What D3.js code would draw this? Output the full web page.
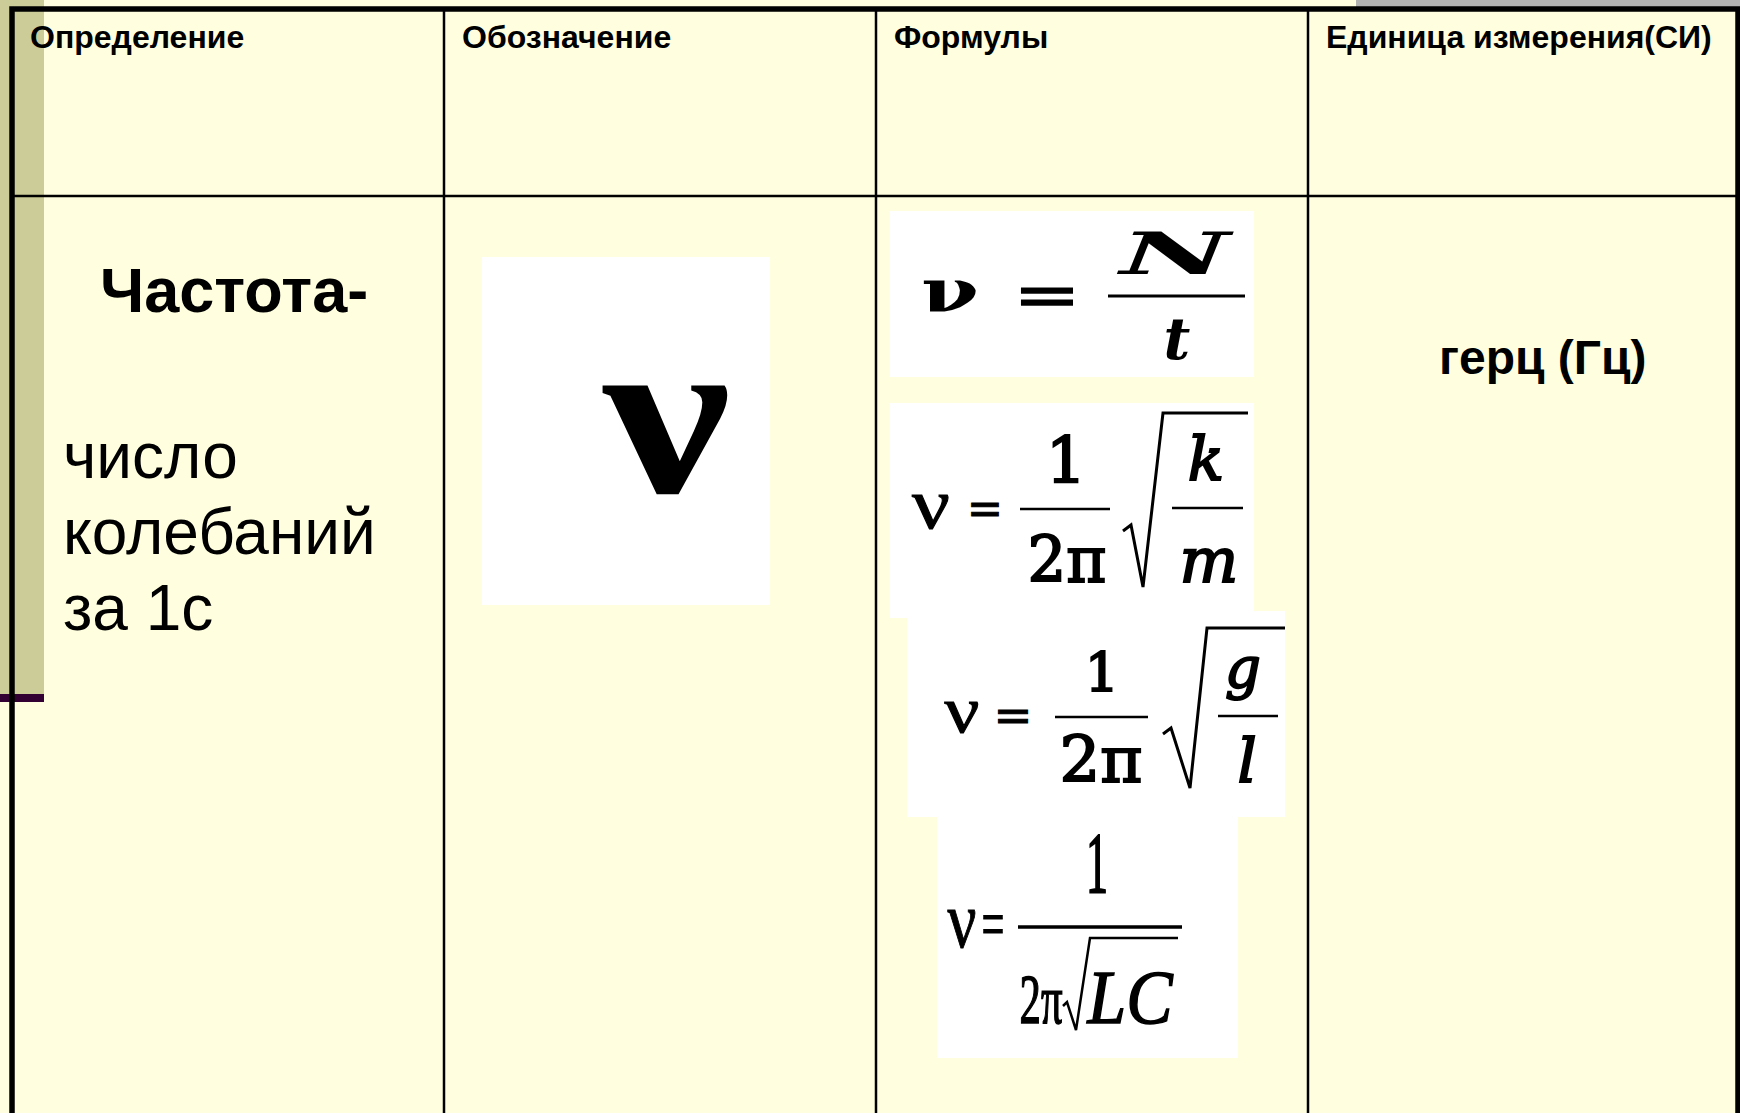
<!DOCTYPE html>
<html>
<head>
<meta charset="utf-8">
<script src="https://cdn.jsdelivr.net/npm/d3@7"></script>
<style>
  html, body { margin: 0; padding: 0; background: #FFFFE0; overflow: hidden; }
  svg { display: block; }
</style>
</head>
<body>
<div id="chart"></div>
<script>
// table content
const headers = ['Определение', 'Обозначение', 'Формулы', 'Единица измерения(СИ)'];
const definitionTitle = 'Частота-';
const definitionLines = ['число', 'колебаний', 'за 1с'];
const symbol = 'ν';
const unit = 'герц (Гц)';
// formulas: ν = numerator / denominator, optionally times sqrt(radicand)
const formulaLeft = ['ν', 'ν', 'ν', 'ν'];
const numerators = ['N', '1', '1', '1'];
const denominators = ['t', '2π', '2π', '2π'];
const radicandTop = [null, 'k', 'g', null];
const radicandBottom = [null, 'm', 'l', null];
const denominatorRoot = [null, null, null, 'LC'];

const W = 1740, H = 1113;
const svg = d3.select('#chart').append('svg').attr('width', W).attr('height', H);

const x = d3.scaleBand().domain(headers).range([12, 1740]);
const rowY = d3.scaleOrdinal().domain(['top', 'body', 'end']).range([9, 196, 1240]);

// slide decoration
svg.append('rect').attr('x', 1356).attr('y', 0).attr('width', W - 1356).attr('height', 8).attr('fill', '#B2B2B2');
svg.append('rect').attr('x', 0).attr('y', 0).attr('width', 44).attr('height', 694).attr('fill', '#CCCC99');
svg.append('rect').attr('x', 0).attr('y', 694).attr('width', 44).attr('height', 8).attr('fill', '#330033');

// grid lines
const grid = svg.append('g');
grid.selectAll('line.col')
  .data(headers.slice(1))
  .join('line')
  .attr('x1', d => x(d)).attr('x2', d => x(d))
  .attr('y1', rowY('top')).attr('y2', rowY('end'))
  .attr('stroke', '#000').attr('stroke-width', 2.5);
grid.append('line')
  .attr('x1', x.range()[0]).attr('x2', x.range()[1])
  .attr('y1', rowY('body')).attr('y2', rowY('body'))
  .attr('stroke', '#000').attr('stroke-width', 2.5);
grid.append('rect')
  .attr('x', x.range()[0]).attr('y', rowY('top'))
  .attr('width', x.range()[1] - 2 - x.range()[0]).attr('height', rowY('end') - rowY('top'))
  .attr('fill', 'none').attr('stroke', '#000').attr('stroke-width', 5.5);

const sans = '"Liberation Sans", Arial, sans-serif';
const serif = '"DejaVu Serif", serif';
const times = '"Liberation Serif", "Times New Roman", serif';

// header texts
svg.selectAll('text.head')
  .data(headers)
  .join('text')
  .attr('class', 'head')
  .attr('x', d => x(d) + 18)
  .attr('y', 48)
  .attr('font-family', sans)
  .attr('font-weight', 'bold')
  .attr('font-size', 32)
  .attr('fill', '#000')
  .text(d => d);

// definition column
const c0 = x(headers[0]);
svg.append('text').attr('x', c0 + 88).attr('y', 312)
  .attr('font-family', sans).attr('font-weight', 'bold').attr('font-size', 63)
  .text(definitionTitle);
svg.selectAll('text.defline')
  .data(definitionLines)
  .join('text')
  .attr('class', 'defline')
  .attr('x', c0 + 51)
  .attr('y', (d, i) => 478 + i * 76)
  .attr('font-family', sans).attr('font-size', 64)
  .text(d => d);

// symbol column
const c1 = x(headers[1]);
svg.append('rect').attr('x', c1 + 38).attr('y', 257).attr('width', 288).attr('height', 348).attr('fill', '#fff');
svg.append('text').attr('x', c1 + 223).attr('y', 492)
  .attr('text-anchor', 'middle')
  .attr('font-family', times).attr('font-weight', 'bold').attr('font-size', 232)
  .attr('textLength', 128).attr('lengthAdjust', 'spacingAndGlyphs')
  .text(symbol);

// unit column
const c3 = x(headers[3]);
svg.append('text').attr('x', c3 + 131).attr('y', 374)
  .attr('font-family', sans).attr('font-weight', 'bold').attr('font-size', 48)
  .text(unit);

// formulas column
const c2 = x(headers[2]);
const fg = svg.append('g').attr('transform', `translate(${c2},0)`);
const boxes = [[14, 211, 364, 166], [14, 403, 364, 215], [31, 611, 378, 206], [61, 817, 301, 241]];
fg.selectAll('rect.fbox').data(boxes).join('rect')
  .attr('x', d => d[0]).attr('y', d => d[1]).attr('width', d => d[2]).attr('height', d => d[3])
  .attr('fill', '#fff');

function t(g, s, px, py, o) {
  const e = g.append('text').attr('x', px).attr('y', py)
    .attr('text-anchor', o.anchor || 'middle')
    .attr('font-family', o.family || serif)
    .attr('font-size', o.size)
    .attr('font-weight', o.bold ? 'bold' : 'normal')
    .attr('font-style', o.italic ? 'italic' : 'normal')
    .text(s);
  if (o.len) e.attr('textLength', o.len).attr('lengthAdjust', 'spacingAndGlyphs');
  if (o.heavy) e.attr('stroke', '#000').attr('stroke-width', o.heavy);
  return e;
}
function bar(g, x1, x2, y, w) {
  g.append('line').attr('x1', x1).attr('x2', x2).attr('y1', y).attr('y2', y)
    .attr('stroke', '#000').attr('stroke-width', w);
}
function root(g, pts, w) {
  g.append('path').attr('d', d3.line()(pts)).attr('fill', 'none')
    .attr('stroke', '#000').attr('stroke-width', w).attr('stroke-linejoin', 'miter');
}

// 1: ν = N / t
t(fg, formulaLeft[0], 950 - c2, 312, { size: 60, bold: true, len: 58 });
t(fg, '=', 1047 - c2, 315, { size: 60, len: 67, heavy: 1.5 });
bar(fg, 1108 - c2, 1245 - c2, 296, 3);
t(fg, numerators[0], 1175 - c2, 274, { size: 58, bold: true, italic: true, len: 110 });
t(fg, denominators[0], 1177 - c2, 359, { size: 58, bold: true, italic: true });

// 2: ν = 1/(2π) sqrt(k/m)
t(fg, formulaLeft[1], 931 - c2, 528, { size: 72, family: times, len: 38, heavy: 1 });
t(fg, '=', 985 - c2, 524, { size: 46, len: 36, heavy: 1 });
bar(fg, 1020 - c2, 1110 - c2, 509, 2.5);
t(fg, numerators[1], 1066 - c2, 483, { size: 64, heavy: 2 });
t(fg, denominators[1], 1067 - c2, 582, { size: 64, len: 79, heavy: 2 });
root(fg, [[1123 - c2, 531], [1131 - c2, 525], [1143 - c2, 587], [1163 - c2, 413], [1248 - c2, 413]], 3);
t(fg, radicandTop[1], 1206 - c2, 480, { size: 60, italic: true, heavy: 2 });
bar(fg, 1172 - c2, 1243 - c2, 508, 2.5);
t(fg, radicandBottom[1], 1209 - c2, 582, { size: 62, italic: true, heavy: 2 });

// 3: ν = 1/(2π) sqrt(g/l)
t(fg, formulaLeft[2], 962 - c2, 732, { size: 66, family: times, len: 35, heavy: 1 });
t(fg, '=', 1013 - c2, 731, { size: 46, len: 39, heavy: 1 });
bar(fg, 1055 - c2, 1148 - c2, 717, 2.5);
t(fg, numerators[2], 1102 - c2, 692, { size: 54, heavy: 2 });
t(fg, denominators[2], 1101 - c2, 782, { size: 64, len: 83, heavy: 2 });
root(fg, [[1163 - c2, 734], [1171 - c2, 728], [1190 - c2, 788], [1207 - c2, 628], [1285 - c2, 628]], 3);
t(fg, radicandTop[2], 1243 - c2, 688, { size: 56, italic: true, heavy: 2 });
bar(fg, 1218 - c2, 1278 - c2, 716, 2.5);
t(fg, radicandBottom[2], 1247 - c2, 782, { size: 60, italic: true, heavy: 2 });

// 4: ν = 1 / (2π sqrt(LC))
t(fg, formulaLeft[3], 962 - c2, 947, { size: 80, family: times, len: 29, heavy: 1 });
t(fg, '=', 993 - c2, 948, { size: 70, family: times, len: 23, heavy: 1 });
bar(fg, 1018 - c2, 1182 - c2, 927, 3.5);
t(fg, numerators[3], 1097 - c2, 892, { size: 87, family: times, len: 22, heavy: 2 });
t(fg, denominators[3], 1041 - c2, 1023, { size: 70, family: times, len: 43, heavy: 1.5 });
root(fg, [[1063 - c2, 1006], [1067 - c2, 1002], [1076 - c2, 1030], [1090 - c2, 938], [1178 - c2, 938]], 2.5);
t(fg, denominatorRoot[3], 1130 - c2, 1023, { size: 76, family: times, italic: true, len: 85, heavy: 1.5 });
</script>
</body>
</html>
